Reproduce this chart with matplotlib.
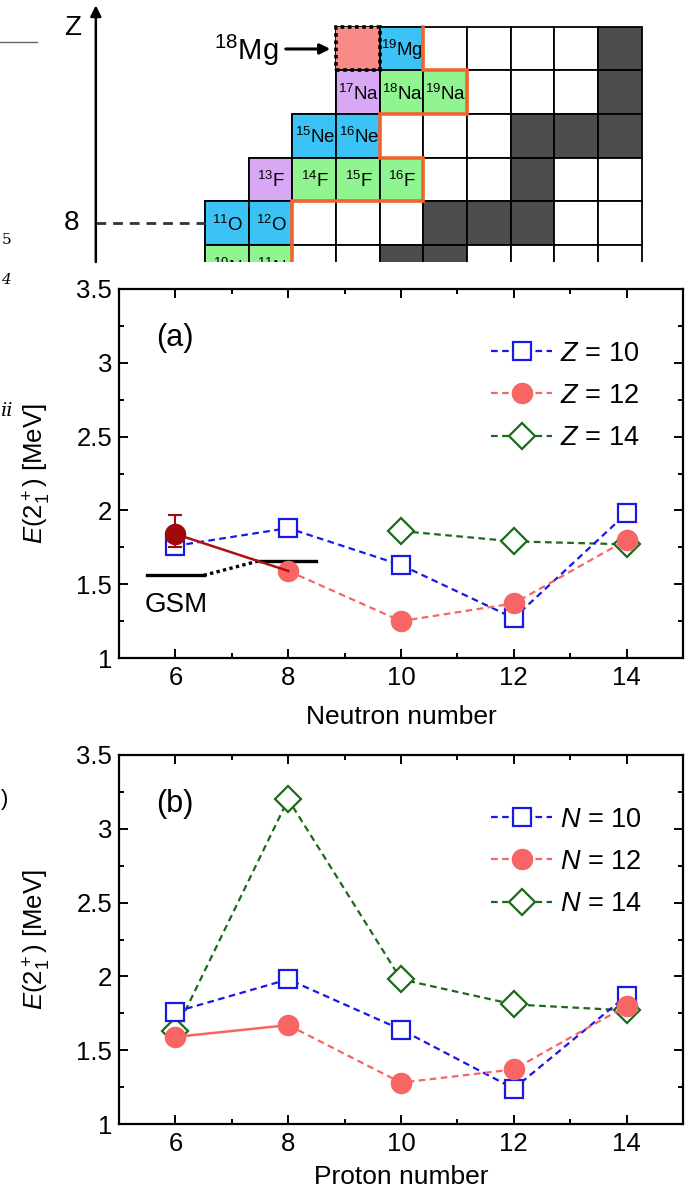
#!/usr/bin/env python3
"""
E(2+) systematics around 18Mg
(top) part of the nuclide chart, (a) vs neutron number, (b) vs proton number
"""
import matplotlib
matplotlib.use("Agg")
import matplotlib.pyplot as plt
from matplotlib.patches import Rectangle

plt.rcParams["font.family"] = ["Liberation Sans", "DejaVu Sans"]
plt.rcParams["mathtext.fontset"] = "custom"
plt.rcParams["mathtext.rm"] = "Liberation Sans"
plt.rcParams["mathtext.it"] = "Liberation Sans:italic"
plt.rcParams["mathtext.bf"] = "Liberation Sans:bold"

# ---------------- nuclide chart data ----------------
CHART_Z = [12, 11, 10, 9, 8, 7]
CHART_NMIN = [6, 6, 5, 4, 3, 3]
CHART_NMAX = 12

NUC_A = [18, 19, 17, 18, 19, 15, 16, 13, 14, 15, 16, 11, 12, 10, 11]
NUC_EL = ["Mg", "Mg", "Na", "Na", "Na", "Ne", "Ne", "F", "F", "F", "F", "O", "O", "N", "N"]
NUC_Z = [12, 12, 11, 11, 11, 10, 10, 9, 9, 9, 9, 8, 8, 7, 7]
NUC_KIND = ["new", "b", "p", "g", "g", "b", "b", "p", "g", "g", "g", "b", "b", "g", "g"]

STABLE_N = [12, 12, 10, 11, 12, 10, 8, 9, 10, 7, 8]
STABLE_Z = [12, 11, 10, 10, 10, 9, 8, 8, 8, 7, 7]

# proton drip line (cell boundaries)
DRIP_N = [7.5, 7.5, 8.5, 8.5, 6.5, 6.5, 7.5, 7.5, 4.5, 4.5]
DRIP_Z = [12.5, 11.5, 11.5, 10.5, 10.5, 9.5, 9.5, 8.5, 8.5, 6.5]

KIND_COLORS = {"new": "#F88A88", "b": "#3CC3F5", "p": "#D8A8F5", "g": "#90F590"}

# ---------------- E(2+) data ----------------
X_NUM = [6, 8, 10, 12, 14]

# (a) vs neutron number
A_Z10 = [1.76, 1.88, 1.63, 1.27, 1.98]
A_Z12_N = [8, 10, 12, 14]
A_Z12 = [1.59, 1.25, 1.37, 1.80]
A_Z14_N = [10, 12, 14]
A_Z14 = [1.86, 1.79, 1.77]
EXP_N, EXP_E = 6, 1.84
EXP_ERR_LO, EXP_ERR_HI = 0.09, 0.13
GSM_N = [[5.5, 6.5], [7.5, 8.5]]
GSM_E = [1.56, 1.66]

# (b) vs proton number
B_N10 = [1.76, 1.98, 1.64, 1.24, 1.87]
B_N12 = [1.59, 1.67, 1.28, 1.37, 1.80]
B_N14 = [1.63, 3.20, 1.98, 1.81, 1.77]

BLUE = "#1818E8"
SALMON = "#F76565"
GREEN = "#1A6A1A"
DARKRED = "#A00A0A"

W, H = 685, 1192
fig = plt.figure(figsize=(W / 100, H / 100), dpi=100)

# ================= nuclide chart =================
cell = 43.67
top_h = 262
ax0 = fig.add_axes([0, 1 - top_h / H, 1, top_h / H])
n_left = 2.5 - 205 / cell
z_top = 12.5 + 26.7 / cell
z_bot = z_top - top_h / cell
ax0.set_xlim(n_left, n_left + W / cell)
ax0.set_ylim(z_bot, z_top)
ax0.axis("off")

stable = set(zip(STABLE_N, STABLE_Z))
for z, nmin in zip(CHART_Z, CHART_NMIN):
    for n in range(nmin, CHART_NMAX + 1):
        fc = "#4D4D4D" if (n, z) in stable else "white"
        ax0.add_patch(Rectangle((n - 0.5, z - 0.5), 1, 1, facecolor=fc,
                                edgecolor="black", linewidth=1.3, zorder=1))

for a, el, z, kind in zip(NUC_A, NUC_EL, NUC_Z, NUC_KIND):
    n = a - z
    if kind == "new":
        ax0.add_patch(Rectangle((n - 0.5, z - 0.5), 1, 1, facecolor=KIND_COLORS[kind],
                                edgecolor="none", zorder=2))
        ax0.add_patch(Rectangle((n - 0.5, z - 0.5), 1, 1, facecolor="none",
                                edgecolor="black", linewidth=2.6,
                                linestyle=(0, (1, 1)), zorder=5))
        continue
    ax0.add_patch(Rectangle((n - 0.5, z - 0.5), 1, 1, facecolor=KIND_COLORS[kind],
                            edgecolor="black", linewidth=1.3, zorder=2))
    ax0.text(n + 0.02, z - 0.03, f"$^{{{a}}}$" + el, ha="center", va="center",
             fontsize=13.5, zorder=3, clip_on=True)

ax0.plot(DRIP_N, DRIP_Z, color="#F0642D", linewidth=2.6, zorder=4,
         solid_joinstyle="miter")

# Z axis with arrow
ax0.annotate("", xy=(0, 12.99), xytext=(0, z_bot),
             arrowprops=dict(arrowstyle="-|>", color="black", linewidth=1.8,
                             mutation_scale=16, shrinkA=0, shrinkB=0))
ax0.text(-0.52, 12.47, "Z", fontsize=20, ha="center", va="center")
ax0.text(-0.55, 8.0, "8", fontsize=20, ha="center", va="center")
ax0.plot([0, 2.5], [8, 8], color="#333333", linewidth=2, linestyle=(0, (3.5, 2.5)))

# 18Mg pointer
ax0.annotate("", xy=(5.37, 11.99), xytext=(4.35, 11.99),
             arrowprops=dict(arrowstyle="-|>", color="black", linewidth=2.2,
                             mutation_scale=15, shrinkA=0, shrinkB=0))
ax0.text(4.17, 11.95, "$^{18}$Mg", fontsize=21, ha="right", va="center")

# stray bits of the neighbouring page column
fig.add_artist(plt.Line2D([0, 37 / W], [1 - 42 / H, 1 - 42 / H], color="#666666",
                          linewidth=1.0))
fig.text(0.002, 1 - 240 / H, "5", fontsize=11, family="DejaVu Serif", va="center")
fig.text(0.002, 1 - 280 / H, "4", fontsize=11, family="DejaVu Serif", style="italic",
         va="center")
fig.text(0.0, 1 - 411 / H, "ii", fontsize=14, family="DejaVu Serif", style="italic",
         va="center")
fig.text(0.001, 1 - 800 / H, ")", fontsize=16, va="center")


# ================= E(2+) panels =================
def style_axes(ax, xlabel, panel, xlab_y):
    ax.set_xlim(5, 15)
    ax.set_ylim(1, 3.5)
    ax.set_xticks(X_NUM)
    ax.set_xticks([5, 7, 9, 11, 13, 15], minor=True)
    ax.set_yticks([1, 1.5, 2, 2.5, 3, 3.5])
    ax.set_yticklabels(["1", "1.5", "2", "2.5", "3", "3.5"])
    ax.set_yticks([1.25, 1.75, 2.25, 2.75, 3.25], minor=True)
    ax.tick_params(which="both", direction="in", top=True, right=True, width=1.4,
                   labelsize=18.5)
    ax.tick_params(which="major", length=6.5)
    ax.tick_params(which="minor", length=3.5)
    ax.tick_params(axis="x", pad=6)
    ax.tick_params(axis="y", pad=5)
    for sp in ax.spines.values():
        sp.set_linewidth(1.6)
    ax.set_xlabel(xlabel, fontsize=19)
    ax.set_ylabel(r"$E$(2$_1^+$) [MeV]", fontsize=18.5)
    ax.xaxis.set_label_coords(0.5, xlab_y)
    ax.yaxis.set_label_coords(-0.117, 0.5)
    ax.text(5.66, 3.17, panel, fontsize=22, ha="left", va="center")


dash = (0, (3, 2))
mk = dict(markersize=13, markeredgewidth=1.6)
leg_kw = dict(loc="upper left", bbox_to_anchor=(0.66, 0.86), frameon=False,
              fontsize=19.5, numpoints=1, handlelength=2.25, handletextpad=0.3,
              labelspacing=0.6, borderpad=0, borderaxespad=0)

left, width = 119 / W, (683 - 119) / W
ax_a = fig.add_axes([left, 1 - 658 / H, width, 369 / H])
ax_b = fig.add_axes([left, 1 - 1124 / H, width, 369 / H])

# ---- (a) ----
ax_a.plot(A_Z14_N, A_Z14, linestyle=dash, color=GREEN, linewidth=1.6, marker="D",
          markerfacecolor="white", markeredgecolor=GREEN, markersize=13.5,
          markeredgewidth=1.6, zorder=3, label="$Z$ = 14")
ax_a.plot(X_NUM, A_Z10, linestyle=dash, color=BLUE, linewidth=1.6, marker="s",
          markerfacecolor="white", markeredgecolor=BLUE, zorder=4, label="$Z$ = 10", **mk)
ax_a.plot(A_Z12_N, A_Z12, linestyle=dash, color=SALMON, linewidth=1.6, marker="o",
          markerfacecolor=SALMON, markeredgecolor=SALMON, zorder=5, label="$Z$ = 12",
          markersize=14.5)
ax_a.plot([EXP_N, A_Z12_N[0]], [EXP_E, A_Z12[0]], color="#B01010", linewidth=1.8, zorder=5)
ax_a.errorbar([EXP_N], [EXP_E], yerr=[[EXP_ERR_LO], [EXP_ERR_HI]], fmt="o",
              color=DARKRED, markersize=14.5, capsize=5, elinewidth=1.5,
              capthick=1.5, zorder=6)
for xs, e in zip(GSM_N, GSM_E):
    ax_a.plot(xs, [e, e], color="black", linewidth=2.4, zorder=2)
ax_a.plot([GSM_N[0][1], GSM_N[1][0]], GSM_E, color="black", linewidth=2.4,
          linestyle=(0, (1, 1)), zorder=2)
ax_a.text(5.45, 1.36, "GSM", fontsize=20, ha="left", va="center")
style_axes(ax_a, "Neutron number", "(a)", -0.127)

h, l = ax_a.get_legend_handles_labels()
order = [1, 2, 0]
ax_a.legend([h[i] for i in order], [l[i] for i in order], **leg_kw)

# ---- (b) ----
ax_b.plot(X_NUM, B_N14, linestyle=dash, color=GREEN, linewidth=1.6, marker="D",
          markerfacecolor="white", markeredgecolor=GREEN, markersize=13.5,
          markeredgewidth=1.6, zorder=3, label="$N$ = 14")
ax_b.plot(X_NUM, B_N10, linestyle=dash, color=BLUE, linewidth=1.6, marker="s",
          markerfacecolor="white", markeredgecolor=BLUE, zorder=4, label="$N$ = 10", **mk)
ax_b.plot(X_NUM[1:], B_N12[1:], linestyle=dash, color=SALMON, linewidth=1.6, zorder=5)
ax_b.plot(X_NUM[:2], B_N12[:2], linestyle="-", color=SALMON, linewidth=1.8, zorder=5)
ax_b.plot(X_NUM, B_N12, linestyle="none", marker="o", markerfacecolor=SALMON,
          markeredgecolor=SALMON, markersize=14.5, zorder=6)
ax_b.plot([], [], linestyle=dash, color=SALMON, linewidth=1.6, marker="o",
          markerfacecolor=SALMON, markeredgecolor=SALMON, markersize=14.5,
          label="$N$ = 12")
style_axes(ax_b, "Proton number", "(b)", -0.112)

h, l = ax_b.get_legend_handles_labels()
order = [1, 2, 0]
ax_b.legend([h[i] for i in order], [l[i] for i in order], **leg_kw)

fig.savefig("out.png", dpi=100, facecolor="white")
